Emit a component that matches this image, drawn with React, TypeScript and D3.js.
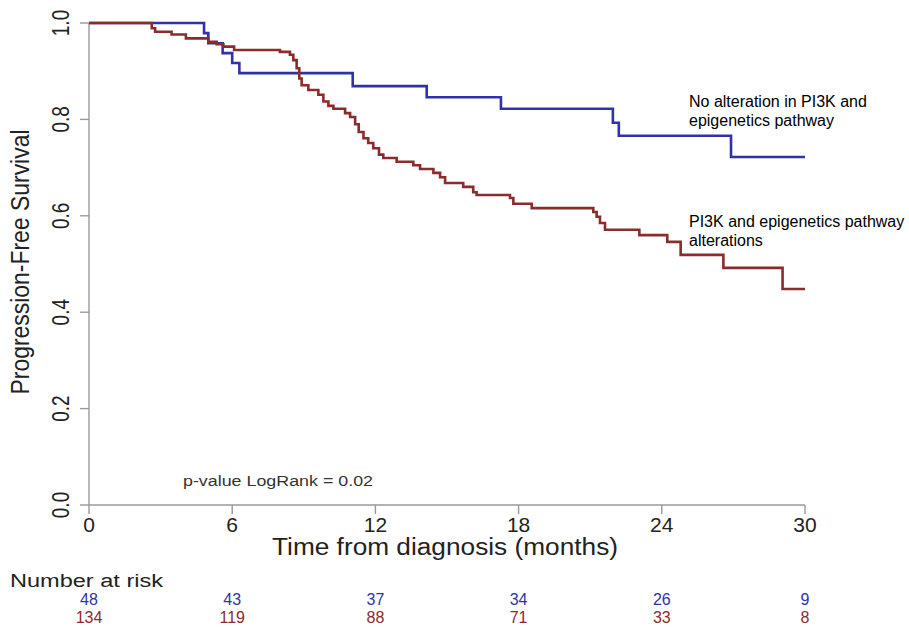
import * as d3 from "d3";
import React from "react";

// months -> survival
const blueTimes = [0, 4.82, 5.0, 5.6, 6.0, 6.3, 11.05, 14.15, 17.26, 21.95, 22.2, 26.9, 30];
const blueSurv = [1, 0.979, 0.958, 0.9375, 0.917, 0.896, 0.869, 0.846, 0.822, 0.793, 0.766, 0.722, 0.722];

const redTimes = [0, 2.63, 2.77, 3.46, 4.06, 5.0, 5.35, 5.63, 6.08, 8.0, 8.42, 8.56, 8.7, 8.81, 8.91, 9.19, 9.61, 9.82,
    10.03, 10.24, 10.73, 10.94, 11.15, 11.3, 11.5, 11.7, 11.91, 12.15, 12.33, 12.89, 13.59, 13.87, 14.43, 14.71, 14.92,
    15.68, 16.1, 16.24, 17.64, 17.78, 18.55, 21.13, 21.27, 21.41, 21.62, 23.06, 24.23, 24.79, 26.58, 29.06, 30];
const redSurv = [1, 0.989, 0.982, 0.976, 0.968, 0.961, 0.956, 0.951, 0.944, 0.94, 0.934, 0.923, 0.906, 0.885, 0.871, 0.861, 0.851, 0.837,
    0.828, 0.822, 0.813, 0.805, 0.79, 0.774, 0.761, 0.751, 0.74, 0.727, 0.72, 0.712, 0.705, 0.697, 0.689, 0.68, 0.668,
    0.66, 0.649, 0.643, 0.637, 0.625, 0.616, 0.608, 0.598, 0.585, 0.571, 0.56, 0.546, 0.519, 0.492, 0.448, 0.448];

const xTicks = [0, 6, 12, 18, 24, 30];
const yTicks = [0, 0.2, 0.4, 0.6, 0.8, 1.0];
const blueAtRisk = [48, 43, 37, 34, 26, 9];
const redAtRisk = [134, 119, 88, 71, 33, 8];

const BLUE = "#3232a6";
const RED = "#8a2c2c";
const FONT = "'Liberation Sans', Arial, Helvetica, sans-serif";

export default function App() {
    const xScale = d3.scaleLinear().domain([0, 30]).range([89, 805]);
    const yScale = d3.scaleLinear().domain([0, 1]).range([505, 23]);

    const line = d3.line<[number, number]>()
        .x(d => xScale(d[0]))
        .y(d => yScale(d[1]))
        .curve(d3.curveStepAfter);

    const bluePts = blueTimes.map((t, i) => [t, blueSurv[i]] as [number, number]);
    const redPts = redTimes.map((t, i) => [t, redSurv[i]] as [number, number]);
    const axisColor = "#9a9a9a";

    return (
        <svg width={909} height={628} style={{ position: "absolute", left: 0, top: 0, background: "#fff" }} fontFamily={FONT}>
            {/* y axis */}
            <line x1={xScale(0)} x2={xScale(0)} y1={yScale(0)} y2={yScale(1)} stroke={axisColor} strokeWidth={1.4} />
            {yTicks.map(t => (
                <g key={"y" + t}>
                    <line x1={xScale(0) - 9} x2={xScale(0)} y1={yScale(t)} y2={yScale(t)} stroke={axisColor} strokeWidth={1.4} />
                    <text transform={`translate(69,${yScale(t)}) scale(1.3,1) rotate(-90)`} textAnchor="middle"
                        fontSize={19} fill="#222">{t.toFixed(1)}</text>
                </g>
            ))}
            <text transform="translate(29,262) scale(1.2,1) rotate(-90)" textAnchor="middle" fontSize={22}
                textLength={265} lengthAdjust="spacingAndGlyphs" fill="#222">Progression-Free Survival</text>

            {/* x axis */}
            <line x1={xScale(0)} x2={xScale(30)} y1={yScale(0)} y2={yScale(0)} stroke={axisColor} strokeWidth={1.4} />
            {xTicks.map(t => (
                <g key={"x" + t}>
                    <line x1={xScale(t)} x2={xScale(t)} y1={yScale(0)} y2={yScale(0) + 9} stroke={axisColor} strokeWidth={1.4} />
                    <text x={xScale(t)} y={532} textAnchor="middle" fontSize={21} fill="#222">{t}</text>
                </g>
            ))}
            <text x={445} y={555} textAnchor="middle" fontSize={23} textLength={346} lengthAdjust="spacingAndGlyphs"
                fill="#222">Time from diagnosis (months)</text>

            {/* curves */}
            <path d={line(bluePts) || ""} fill="none" stroke={BLUE} strokeWidth={2.6} />
            <path d={line(redPts) || ""} fill="none" stroke={RED} strokeWidth={2.6} />

            <text x={183} y={486} fontSize={15.5} textLength={190} lengthAdjust="spacingAndGlyphs" fill="#333">p-value LogRank = 0.02</text>

            {/* labels */}
            <text x={689} y={107} fontSize={16} fill="#000">No alteration in PI3K and</text>
            <text x={689} y={126} fontSize={16} fill="#000">epigenetics pathway</text>
            <text x={689} y={227} fontSize={16} fill="#000">PI3K and epigenetics pathway</text>
            <text x={689} y={246} fontSize={16} fill="#000">alterations</text>

            {/* risk table */}
            <text x={10} y={587} fontSize={18} textLength={153} lengthAdjust="spacingAndGlyphs" fill="#222">Number at risk</text>
            {xTicks.map((t, i) => (
                <g key={"r" + t}>
                    <text x={xScale(t)} y={605} textAnchor="middle" fontSize={16} fill={BLUE}>{blueAtRisk[i]}</text>
                    <text x={xScale(t)} y={623} textAnchor="middle" fontSize={16} fill={RED}>{redAtRisk[i]}</text>
                </g>
            ))}
        </svg>
    );
}
